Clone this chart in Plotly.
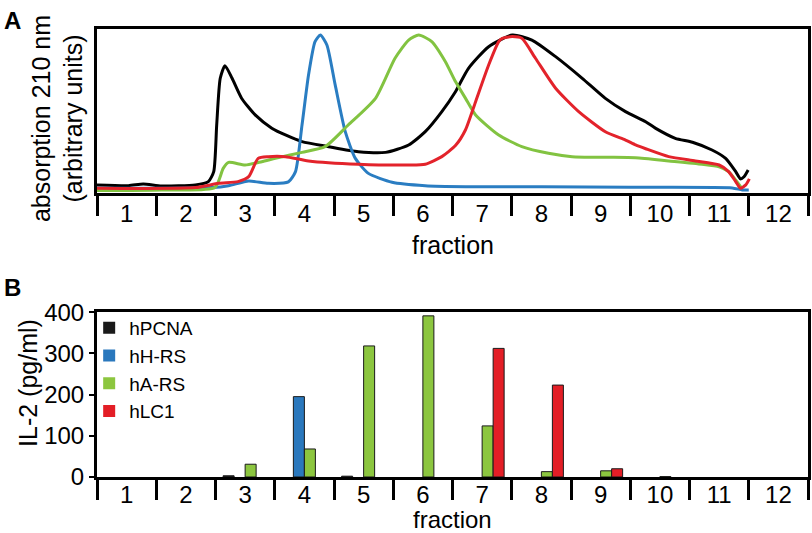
import plotly.graph_objects as go

# ---------------- data ----------------
fractions = list(range(1, 13))
frac_labels = [str(i) for i in fractions]

# Panel A: absorption 210 nm traces (x in fraction units, y arbitrary units)
hpcna_x = [0.5, 1.03, 1.28, 1.59, 2.16, 2.38, 2.47, 2.52, 2.58, 2.66, 2.78, 2.94, 3.17, 3.45, 3.68,
           3.96, 4.41, 4.91, 5.37, 5.76, 6.04, 6.32, 6.55, 6.77, 7.11, 7.51, 7.84, 8.24, 8.69, 9.08,
           9.42, 9.76, 9.93, 10.26, 10.55, 10.88, 11.11, 11.28, 11.36, 11.42, 11.49]
hpcna_y = [5.1, 4.6, 5.7, 4.4, 5.1, 7.2, 13.5, 43, 72.6, 80.6, 72.6, 60, 49.4, 41, 36.7,
           32.5, 29.3, 26.1, 25.7, 30.4, 38.8, 51.5, 64.1, 78.9, 92.6, 100, 96.8, 86.3, 72.6, 59.9,
           51.5, 45.1, 40.9, 34.6, 32.1, 27.2, 21.9, 13.5, 8.9, 10.3, 14.6]

hhrs_x = [0.5, 1.6, 2.44, 2.72, 3.06, 3.39, 3.73, 3.85, 3.96, 4.07, 4.18, 4.27, 4.38, 4.52, 4.69,
          4.86, 5.08, 5.48, 6.04, 6.72, 8.0, 9.5, 11.22, 11.39, 11.5]
hhrs_y = [3.0, 3.0, 3.4, 4.6, 7.6, 6.1, 7.0, 13.5, 43, 74.7, 95.8, 100, 93.7, 68.4, 38.8,
          21.9, 12.4, 6.8, 4.6, 4.0, 4.0, 3.6, 3.2, 1.9, 1.9]

hars_x = [0.47, 1.59, 2.49, 2.63, 2.72, 3.0, 3.28, 3.51, 3.96, 4.35, 4.74, 5.20, 5.53, 5.76, 5.93,
          6.15, 6.38, 6.55, 6.72, 6.89, 7.28, 7.67, 8.12, 8.52, 9.08, 9.59, 10.15, 10.71, 11.0,
          11.16, 11.28, 11.38]
hars_y = [1.5, 1.9, 3.4, 15.6, 19.4, 17.7, 19.8, 21.9, 25.7, 29.3, 43, 59.9, 85.3, 96.8, 100,
          95.8, 83.1, 70.5, 59.9, 49.4, 36.7, 29.3, 25.1, 23, 22.6, 22.3, 20.3, 18.2, 16.6,
          13.5, 8.2, 3.0]

hlc1_x = [0.47, 2.16, 2.55, 2.88, 3.06, 3.22, 3.39, 3.68, 4.07, 4.91, 5.76, 6.04, 6.32, 6.55,
          6.72, 6.89, 7.11, 7.28, 7.34, 7.51, 7.67, 7.90, 8.24, 8.63, 9.08, 9.42, 9.59, 9.76,
          10.15, 10.6, 11.0, 11.16, 11.28, 11.36, 11.45, 11.51]
hlc1_y = [3.0, 3.4, 6.1, 7.2, 10.3, 21.9, 23, 23, 20.3, 18.2, 17.7, 18.2, 23, 30, 40, 57.8, 81,
          95.8, 97.9, 99, 97.9, 85.3, 66.3, 51.5, 38.8, 33.5, 30.4, 28, 23, 20.3, 17.7, 13.5,
          7.2, 3.0, 5.1, 8.9]

# Panel B: IL-2 (pg/ml) per fraction
il2_hpcna = [0, 0, 3, 0, 2, 0, 0, 0, 0, 0, 0, 0]
il2_hhrs = [0, 0, 0, 195, 0, 0, 0, 0, 0, 0, 0, 0]
il2_hars = [0, 0, 31, 68, 318, 391, 124, 13, 15, 1, 0, 0]
il2_hlc1 = [0, 0, 0, 0, 0, 0, 312, 223, 20, 0, 0, 0]

series_names = ["hPCNA", "hH-RS", "hA-RS", "hLC1"]
line_colors = ["#000000", "#2a7dc2", "#82c341", "#e3232b"]
bar_colors = ["#1a1a1a", "#2a78bd", "#8cc63f", "#e31e26"]

# ---------------- figure ----------------
FONT = "Liberation Sans, Arial, sans-serif"
fig = go.Figure()

for xs, ys, col in zip([hpcna_x, hhrs_x, hars_x, hlc1_x],
                       [hpcna_y, hhrs_y, hars_y, hlc1_y], line_colors):
    fig.add_trace(go.Scatter(x=xs, y=ys, mode="lines", showlegend=False,
                             line=dict(color=col, width=3, shape="spline", smoothing=0.6),
                             xaxis="x", yaxis="y", hoverinfo="skip"))

for name, vals, col in zip(series_names, [il2_hpcna, il2_hhrs, il2_hars, il2_hlc1], bar_colors):
    fig.add_trace(go.Bar(x=fractions, y=vals, name=name, xaxis="x2", yaxis="y2",
                         marker=dict(color=col,
                                     line=dict(color="#1a1a1a",
                                               width=[1 if v > 0 else 0 for v in vals]))))

boundaries = [f - 0.5 for f in fractions] + [fractions[-1] + 0.5]

def xaxis_cfg(anchor, standoff):
    return dict(anchor=anchor, domain=[0, 1], range=[0.5, 12.5],
                tickmode="array", tickvals=fractions, ticktext=frac_labels, ticks="",
                ticklabelstandoff=standoff,
                minor=dict(tickmode="array", tickvals=boundaries, ticks="outside",
                           ticklen=20, tickwidth=3, tickcolor="black"),
                showline=True, linewidth=3, linecolor="black", mirror=True,
                showgrid=False, zeroline=False, automargin=False,
                tickfont=dict(size=24, color="black", family=FONT))

fig.update_layout(
    width=812, height=533,
    template="none",
    paper_bgcolor="white", plot_bgcolor="white",
    margin=dict(l=97, r=4, t=29, b=56),
    font=dict(family=FONT, color="black"),
    barmode="group", bargap=0.257, bargroupgap=0,
    xaxis=xaxis_cfg("y", -3),
    yaxis=dict(domain=[0.634, 1], range=[0, 103.8], showticklabels=False, ticks="",
               showline=True, linewidth=3, linecolor="black", mirror=True,
               showgrid=False, zeroline=False, automargin=False),
    xaxis2=xaxis_cfg("y2", -6),
    yaxis2=dict(domain=[0, 0.368], range=[0, 400], tickmode="array",
                tickvals=[0, 100, 200, 300, 400], ticks="outside", ticklen=5, tickwidth=2,
                tickcolor="black", showline=True, linewidth=3, linecolor="black", mirror=True,
                showgrid=False, zeroline=False, automargin=False,
                tickfont=dict(size=24, color="black", family=FONT)),
    legend=dict(x=-0.011, y=0.375, xanchor="left", yanchor="top", bgcolor="rgba(0,0,0,0)",
                font=dict(size=19, color="black", family=FONT), tracegroupgap=0,
                itemwidth=30),
    showlegend=True,
)

annots = [
    dict(text="<b>A</b>", x=-0.1195, y=1.02, size=24),
    dict(text="<b>B</b>", x=-0.1195, y=0.424, size=24),
    dict(text="absorption 210 nm<br>(arbitrary units)", x=-0.0556, y=0.80, textangle=-90,
         size=25),
    dict(text="IL-2 (pg/ml)", x=-0.097, y=0.21, textangle=-90, size=25),
    dict(text="fraction", x=0.5, y=0.518, size=25),
    dict(text="fraction", x=0.5, y=-0.094, size=24),
]
for a in annots:
    size = a.pop("size")
    fig.add_annotation(xref="paper", yref="paper", showarrow=False, xanchor="center",
                       yanchor="middle", font=dict(family=FONT, color="black", size=size), **a)

fig.write_html("out.html", config={"displayModeBar": False},
               post_script="document.body.style.margin='0';")
